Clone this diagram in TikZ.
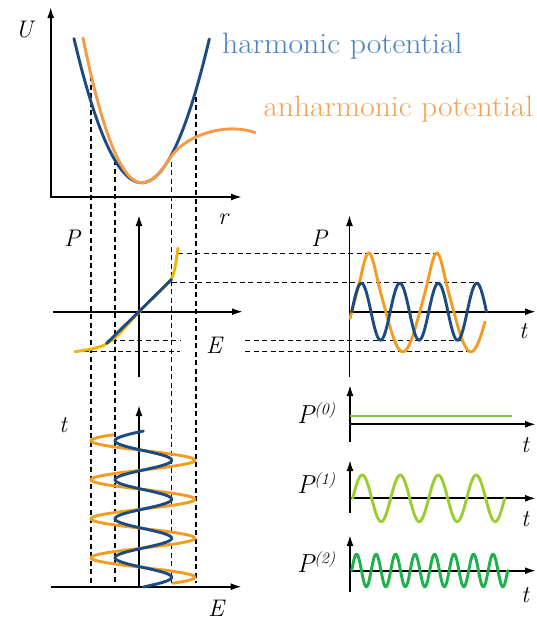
\documentclass[tikz,border=0pt]{standalone}
\usetikzlibrary{arrows.meta}
\definecolor{hblue}{HTML}{1B4B80}
\definecolor{htext}{HTML}{4A80C4}
\definecolor{aorange}{HTML}{F79A45}
\definecolor{atext}{HTML}{F7A050}
\definecolor{gold}{HTML}{F5B400}
\definecolor{orng}{HTML}{F39C1F}
\definecolor{gA}{HTML}{7DC242}
\definecolor{gB}{HTML}{9ACD32}
\definecolor{gC}{HTML}{1DB04B}
\begin{document}
\begin{tikzpicture}[x=1pt,y=-1pt,
 axis/.style={line width=1.8pt,-{Latex[length=11pt,width=7pt]}},
 dashln/.style={line width=1.3pt,dash pattern=on 5pt off 3.5pt},
 curve/.style={line width=2.9pt,line cap=round,line join=round},
 lbl/.style={font=\fontsize{24}{24}\selectfont\itshape,inner sep=0pt},
 plbl/.style={font=\fontsize{26}{26}\selectfont\itshape,inner sep=0pt,anchor=base west},
 bigtxt/.style={font=\fontsize{29.5}{29.5}\selectfont,inner sep=0pt,anchor=base west}]
\useasboundingbox (0,0) rectangle (537,622);

% dashed verticals
\coordinate (v1t) at (91,76);    \coordinate (v1b) at (91,583);
\coordinate (v2t) at (115,160);  \coordinate (v2b) at (115,583);
\coordinate (v3t) at (171.5,153);\coordinate (v3b) at (171.5,583);
\coordinate (v4t) at (196,88);   \coordinate (v4b) at (196,583);
\draw[dashln] (v1t) -- (v1b);
\draw[dashln] (v2t) -- (v2b);
\draw[dashln] (v3t) -- (v3b);
\draw[dashln] (v4t) -- (v4b);

% dashed horizontals
\coordinate (h1a) at (178,253.3);   \coordinate (h1b) at (435,253.3);
\coordinate (h2a) at (171.7,282.7); \coordinate (h2b) at (478,282.7);
\coordinate (h3a) at (111.7,340.3); \coordinate (h3b) at (180,340.3);
\coordinate (h3c) at (245,340.3);   \coordinate (h3d) at (461,340.3);
\coordinate (h4a) at (75,351.7);    \coordinate (h4b) at (180,351.7);
\coordinate (h4c) at (245,351.7);   \coordinate (h4d) at (470,351.7);
\draw[dashln] (h1a) -- (h1b);
\draw[dashln] (h2a) -- (h2b);
\draw[dashln] (h3a) -- (h3b);
\draw[dashln] (h3c) -- (h3d);
\draw[dashln] (h4a) -- (h4b);
\draw[dashln] (h4c) -- (h4d);

% ---------- top panel: potentials
\draw[axis] (50.7,197) -- (50.7,7);
\draw[axis] (49.8,197) -- (242,197);
\draw[curve,hblue] plot[domain=74:209.3,samples=80] (\x,{182.7-0.03145*(\x-141.7)^2});
\draw[curve,aorange] plot[domain=83:141.7,samples=40] (\x,{182.7-0.042*(\x-141.7)^2})
  -- plot[domain=141.7:168,samples=20] (\x,{182.7-0.03145*(\x-141.7)^2})
  .. controls (176,147.5) and (190,138) .. (208,132.5)
  .. controls (222,128.5) and (238,127) .. (255,132.5);
\node[lbl] (U) at (24,29.5) {U};
\node[lbl] (r) at (223,219) {r};
\node[bigtxt,text=htext] (harm) at (222,53.3) {\scalebox{1.075}[1]{harmonic potential}};
\node[bigtxt,text=atext] (anharm) at (263.3,116.7) {\scalebox{1.07}[1]{anharmonic potential}};

% ---------- middle-left: P(E)
\draw[axis] (139,377) -- (139,215);
\draw[axis] (52.7,311.7) -- (243,311.7);
\draw[curve,gold] plot[smooth,tension=0.5] coordinates {(75,351.7) (90,349.3) (102,346) (111,340.8) (120,333) (139,312) (165,286) (171,279.5) (174,272) (176,262) (178,248)};
\draw[curve,hblue] (106.7,343.3) -- (171.7,279.3);
\node[lbl] (P1) at (72,238) {P};
\node[lbl] (E1) at (214,345) {E};

% ---------- middle-right: P(t)
\draw[axis] (349.5,377) -- (349.5,215);
\draw[axis] (348.6,311.7) -- (536,311.7);
\draw[curve,orng] plot[domain=350:485,samples=160] (\x,{311.7-40*sin((\x-351.8)*5.29412)-18.7*(max(sin((\x-351.8)*5.29412),0))^4});
\draw[curve,hblue] plot[domain=351.7:486.45,samples=160] (\x,{311.7-28.5*sin((\x-351.7)*9.35065)});
\node[lbl] (P2) at (319,238) {P};
\node[lbl] (t1) at (523,331) {t};

% ---------- bottom-left: E(t)
\draw[axis] (139,587) -- (139,405);
\draw[axis] (50.7,586.7) -- (241.7,586.7);
\draw[curve,orng] plot[domain=3.8:152.2,samples=220] ({142.9+52*sin(\x*9.23077)},{587-\x});
\draw[curve,hblue] plot[domain=0:156,samples=220] ({143.35+28.35*sin(\x*9.23077)},{587-\x});
\node[lbl] (t2) at (63,425) {t};
\node[lbl] (E2) at (216,608) {E};

% ---------- bottom-right: P^(0), P^(1), P^(2)
\draw[axis] (350,441.7) -- (350,385);
\draw[axis] (349.1,424.3) -- (536,424.3);
\draw[curve,gA,line cap=butt] (350,416) -- (512,416);
\node[plbl] (P0l) at (297,423) {P\raisebox{9pt}{\fontsize{16}{16}\selectfont(0)}};
\node[lbl] (t3) at (525,445) {t};

\draw[axis] (350,513.3) -- (350,460);
\draw[axis] (349.1,498.3) -- (536,498.3);
\draw[curve,gB] plot[domain=352.7:504.7,samples=160] (\x,{498.3-23.3*sin((\x-352.7)*9.47368)});
\node[plbl] (P1l) at (297,493) {P\raisebox{9pt}{\fontsize{16}{16}\selectfont(1)}};
\node[lbl] (t4) at (525,519) {t};

\draw[axis] (350,591.7) -- (350,535);
\draw[axis] (349.1,570.7) -- (536,570.7);
\draw[curve,gC] plot[domain=351.7:507.7,samples=200] (\x,{570.5-16.3*sin((\x-351.7)*18.46154)});
\node[plbl] (P2l) at (297,572) {P\raisebox{9pt}{\fontsize{16}{16}\selectfont(2)}};
\node[lbl] (t5) at (525,595) {t};
\end{tikzpicture}
\end{document}
